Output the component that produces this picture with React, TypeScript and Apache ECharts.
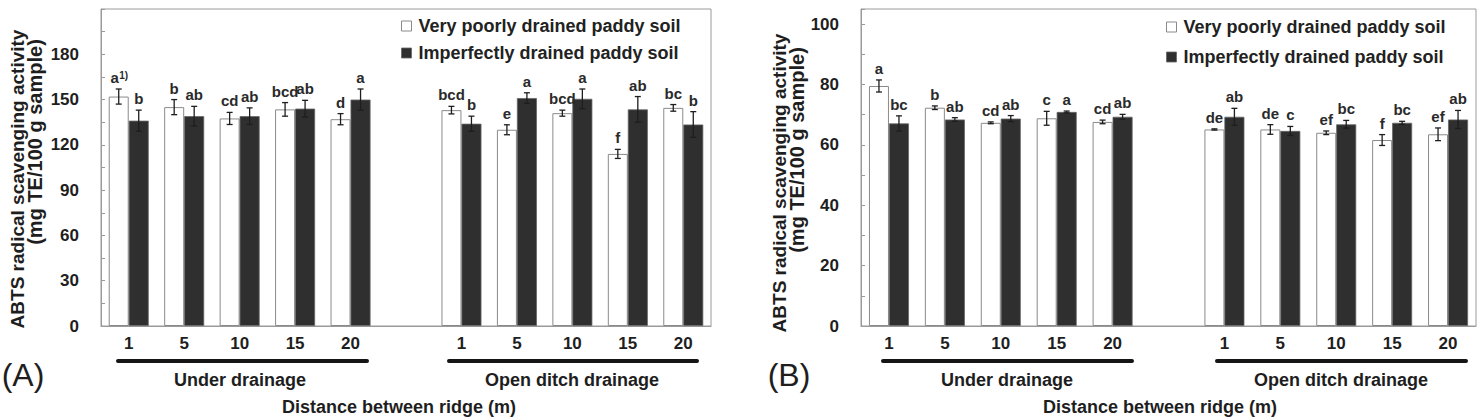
import React, { useEffect, useRef } from "react";
import * as echarts from "echarts";

// Distance between ridges (m); the empty slot separates the two drainage groups
const distances = ["1", "5", "10", "15", "20", "", "1", "5", "10", "15", "20"];

const soilNames = ["Very poorly drained paddy soil", "Imperfectly drained paddy soil"];

// (A) ABTS radical scavenging activity, mg TE/100 g sample
const aPoorMean = [152, 145, 137.5, 143.5, 137, null, 143, 130, 141, 114, 144.5];
const aPoorSd = [5, 5, 4, 4.5, 3.7, null, 2.5, 3.3, 2, 3, 2.2];
const aImpMean = [136, 139, 139, 144, 150, null, 134, 151, 150.5, 143.5, 133.5];
const aImpSd = [7, 6.5, 5.5, 5.5, 7, null, 5, 3.5, 6.5, 8.5, 8.5];
const aPoorLetters = ["a^1)", "b", "cd", "bcd", "d", "", "bcd", "e", "bcd", "f", "bc"];
const aImpLetters = ["b", "ab", "ab", "ab", "a", "", "b", "a", "a", "ab", "b"];

// (B) ABTS radical scavenging activity, mg TE/100 g sample
const bPoorMean = [79.5, 72.3, 67.3, 68.8, 67.6, null, 65.1, 65.1, 64.0, 61.6, 63.5];
const bPoorSd = [2, 0.6, 0.3, 2.3, 0.6, null, 0.2, 1.6, 0.6, 1.8, 2.1];
const bImpMean = [67.1, 68.4, 68.7, 70.9, 69.3, null, 69.3, 64.6, 66.8, 67.3, 68.4];
const bImpSd = [2.5, 0.6, 1, 0.3, 0.8, null, 2.8, 1.5, 1.3, 0.5, 3];
const bPoorLetters = ["a", "b", "cd", "c", "cd", "", "de", "de", "ef", "f", "ef"];
const bImpLetters = ["bc", "ab", "ab", "a", "ab", "", "ab", "c", "bc", "bc", "ab"];

const FONT = '"Liberation Sans", Arial, sans-serif';
const INK = "#1e1e1e";
const AXIS = "#9a9a9a";
const BAR_W = 20;

const poorStyle = { color: "#ffffff", borderColor: "#8a8a8a", borderWidth: 1 };
const impStyle = { color: "#2f2f2f", borderColor: "#666666", borderWidth: 0.8 };

function errorSeries(
  id: string,
  grid: number,
  means: (number | null)[],
  sds: (number | null)[],
  letters: string[],
  side: number
) {
  const data: number[][] = [];
  means.forEach((m, i) => {
    if (m != null) data.push([i, m, sds[i] as number]);
  });
  return {
    type: "custom",
    name: id,
    xAxisIndex: grid,
    yAxisIndex: grid,
    z: 5,
    encode: { x: 0, y: 1 },
    data,
    renderItem: (_params: any, api: any) => {
      const i = api.value(0);
      const m = api.value(1);
      const s = api.value(2);
      const top = api.coord([i, m + s]);
      const bot = api.coord([i, m - s]);
      const x = top[0] + (side * BAR_W) / 2;
      const yt = top[1];
      const yb = bot[1];
      const stroke = { stroke: INK, lineWidth: 1.3 };
      const children: any[] = [
        { type: "line", shape: { x1: x, y1: yt, x2: x, y2: yb }, style: stroke },
        { type: "line", shape: { x1: x - 3, y1: yt, x2: x + 3, y2: yt }, style: stroke },
        { type: "line", shape: { x1: x - 3, y1: yb, x2: x + 3, y2: yb }, style: stroke },
      ];
      const [main, sup] = letters[i].split("^");
      const ty = yt - 4;
      const letterStyle = {
        fill: "#2a2a2a",
        fontSize: 15,
        fontWeight: "bold",
        fontFamily: FONT,
        verticalAlign: "bottom",
      };
      if (sup) {
        children.push(
          { type: "text", x: x, y: ty, style: { ...letterStyle, text: main, align: "right" } },
          {
            type: "text",
            x: x + 0.5,
            y: ty - 5,
            style: { ...letterStyle, text: sup, fontSize: 10, align: "left" },
          }
        );
      } else {
        children.push({ type: "text", x: x, y: ty, style: { ...letterStyle, text: main, align: "center" } });
      }
      return { type: "group", children };
    },
  };
}

function barSeries(grid: number, name: string, values: (number | null)[], style: any) {
  return {
    type: "bar",
    name,
    xAxisIndex: grid,
    yAxisIndex: grid,
    barWidth: BAR_W,
    barGap: "0%",
    itemStyle: style,
    data: values,
  };
}

function xAxis(grid: number) {
  return {
    type: "category",
    gridIndex: grid,
    data: distances,
    axisLine: { lineStyle: { color: AXIS, width: 1 } },
    axisTick: { inside: true, length: 4, interval: 0, lineStyle: { color: AXIS } },
    axisLabel: { interval: 0, margin: 9, fontSize: 17, fontWeight: "bold", color: INK, fontFamily: FONT },
  };
}

function yAxis(grid: number, max: number, interval: number, labelStep: number, labelMax: number) {
  return {
    type: "value",
    gridIndex: grid,
    min: 0,
    max,
    interval,
    splitLine: { show: false },
    axisLine: { show: true, lineStyle: { color: AXIS, width: 1 } },
    axisTick: { show: true, inside: true, length: 4, lineStyle: { color: AXIS } },
    axisLabel: {
      margin: 22,
      fontSize: 17,
      fontWeight: "bold",
      color: INK,
      fontFamily: FONT,
      formatter: (v: number) => (v % labelStep === 0 && v <= labelMax ? String(v) : ""),
    },
  };
}

function legend(left: number, top: number, gap: number) {
  return {
    orient: "vertical",
    left,
    top,
    padding: 0,
    itemWidth: 10,
    itemHeight: 10,
    itemGap: gap,
    icon: "rect",
    textStyle: { fontSize: 18, fontWeight: "bold", color: "#222", fontFamily: FONT, padding: [0, 0, 0, 2] },
    data: [
      { name: soilNames[0], itemStyle: poorStyle },
      { name: soilNames[1], itemStyle: impStyle },
    ],
  };
}

function txt(x: number, y: number, text: string, size: number, weight = "bold", rotate = 0) {
  return {
    type: "text",
    x,
    y,
    rotation: rotate,
    style: {
      text,
      fill: INK,
      fontSize: size,
      fontWeight: weight,
      fontFamily: FONT,
      align: "center",
      verticalAlign: "middle",
      textAlign: "center",
      textVerticalAlign: "middle",
    },
  };
}

function underline(x1: number, x2: number, y: number) {
  return {
    type: "line",
    shape: { x1, y1: y, x2, y2: y },
    style: { stroke: "#151515", lineWidth: 4, lineCap: "round" },
  };
}

export default function App() {
  const ref = useRef<HTMLDivElement>(null);

  useEffect(() => {
    if (!ref.current) return;
    const chart = echarts.init(ref.current, null, { renderer: "svg" });
    const grid = { show: true, borderColor: AXIS, borderWidth: 1, backgroundColor: "transparent" };
    chart.setOption({
      animation: false,
      textStyle: { fontFamily: FONT },
      grid: [
        { ...grid, left: 101, right: 771, top: 9, bottom: 91 },
        { ...grid, left: 861, right: 6, top: 9, bottom: 91 },
      ],
      legend: [legend(401, 17, 9), legend(1166, 18, 12)],
      xAxis: [xAxis(0), xAxis(1)],
      yAxis: [yAxis(0, 210, 15, 30, 180), yAxis(1, 105, 10, 20, 100)],
      series: [
        barSeries(0, soilNames[0], aPoorMean, poorStyle),
        barSeries(0, soilNames[1], aImpMean, impStyle),
        errorSeries("errA0", 0, aPoorMean, aPoorSd, aPoorLetters, -1),
        errorSeries("errA1", 0, aImpMean, aImpSd, aImpLetters, 1),
        barSeries(1, soilNames[0], bPoorMean, poorStyle),
        barSeries(1, soilNames[1], bImpMean, impStyle),
        errorSeries("errB0", 1, bPoorMean, bPoorSd, bPoorLetters, -1),
        errorSeries("errB1", 1, bImpMean, bImpSd, bImpLetters, 1),
      ],
      graphic: [
        // panel (A)
        txt(17, 179, "ABTS radical scavenging activity", 19, "bold", Math.PI / 2),
        txt(35, 142, "(mg TE/100 g sample)", 20, "bold", Math.PI / 2),
        txt(23, 375, "(A)", 32, "normal"),
        underline(118, 367, 361),
        underline(449, 697, 361),
        txt(240, 380, "Under drainage", 18),
        txt(572, 380, "Open ditch drainage", 18),
        txt(399, 407, "Distance between ridge (m)", 18),
        // panel (B)
        txt(779, 183, "ABTS radical scavenging activity", 19, "bold", Math.PI / 2),
        txt(797, 150, "(mg TE/100 g sample)", 20, "bold", Math.PI / 2),
        txt(789, 375, "(B)", 32, "normal"),
        underline(883, 1132, 361),
        underline(1217, 1466, 361),
        txt(1007, 380, "Under drainage", 18),
        txt(1341, 380, "Open ditch drainage", 18),
        txt(1160, 407, "Distance between ridge (m)", 18),
      ],
    });
    return () => chart.dispose();
  }, []);

  return (
    <div
      ref={ref}
      style={{ position: "absolute", left: 0, top: 0, width: 1482, height: 417, background: "#fff" }}
    />
  );
}
